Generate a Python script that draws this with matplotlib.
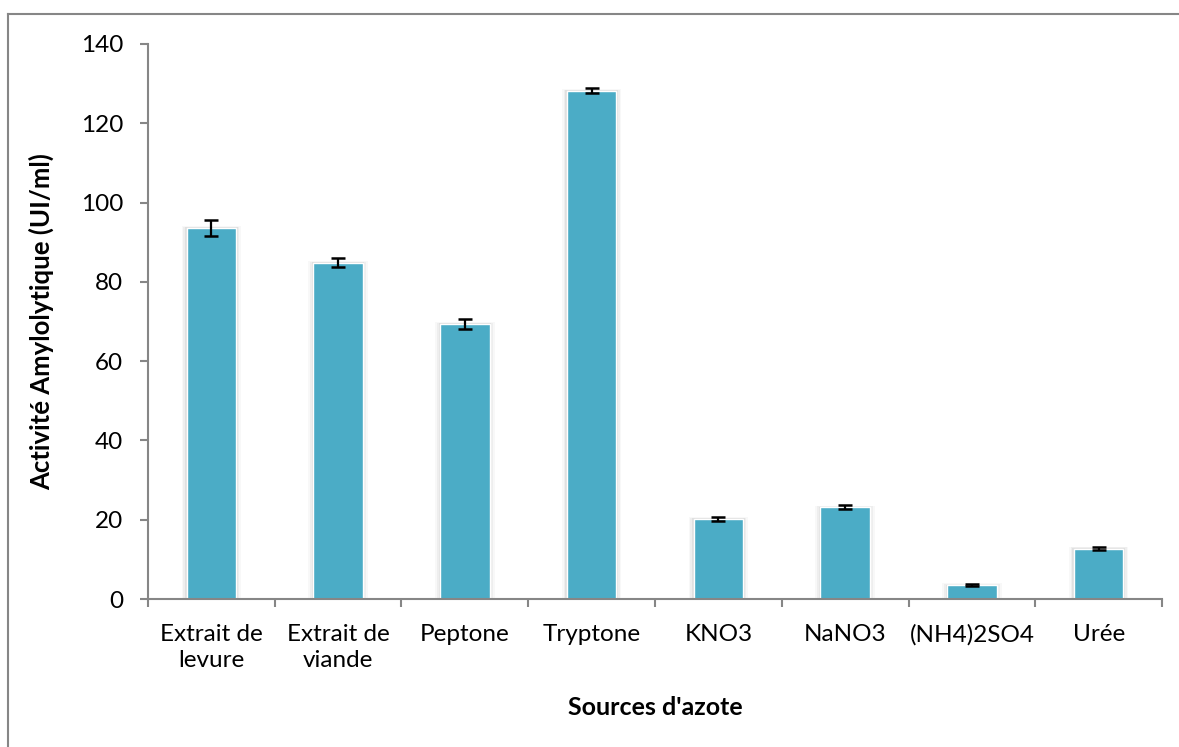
import matplotlib.pyplot as plt
from matplotlib.lines import Line2D
from matplotlib.ticker import FixedLocator
import numpy as np

plt.rcParams['font.family'] = ['Lato', 'DejaVu Sans']

sources = ['Extrait de\nlevure', 'Extrait de\nviande', 'Peptone', 'Tryptone',
           'KNO3', 'NaNO3', '(NH4)2SO4', 'Urée']
activite = [93.6, 84.8, 69.4, 128.2, 20.2, 23.1, 3.5, 12.7]
erreur = [2.0, 1.1, 1.2, 0.6, 0.6, 0.5, 0.3, 0.3]

bar_color = '#4BACC6'
axis_color = '#868686'

fig = plt.figure(figsize=(11.79, 7.47), dpi=100)
ax = fig.add_axes([0.1255, 0.1981, 0.8601, 0.7430])

x = np.arange(len(sources))
width = 0.39

# soft shadow behind the bars
for grow, alpha in [(0.08, 0.05), (0.05, 0.08), (0.025, 0.12)]:
    ax.bar(x, np.array(activite) + grow * 12, width=width + grow,
           color='#7f7f7f', alpha=alpha, linewidth=0, zorder=1,
           bottom=-grow * 6)
ax.bar(x, activite, width=width, color=bar_color, edgecolor='white',
       linewidth=1.0, zorder=2)
ax.errorbar(x, activite, yerr=erreur, fmt='none', ecolor='black',
            elinewidth=1.6, capsize=5, capthick=1.8, zorder=3)

ax.set_xlim(-0.5, len(sources) - 0.5)
ax.set_ylim(0, 140)
ax.set_yticks(range(0, 141, 20))
ax.set_xticks(x)
ax.set_xticklabels(sources, fontsize=17.5, linespacing=1.3)
ax.xaxis.set_minor_locator(FixedLocator(np.arange(-0.5, len(sources), 1.0)))
ax.tick_params(axis='x', which='major', length=0, pad=18)
ax.tick_params(axis='x', which='minor', length=6, width=1.5, color=axis_color)
ax.tick_params(axis='y', length=6, width=1.5, color=axis_color,
               labelsize=17.5, pad=12)

for side in ['top', 'right']:
    ax.spines[side].set_visible(False)
for side in ['left', 'bottom']:
    ax.spines[side].set_color(axis_color)
    ax.spines[side].set_linewidth(1.5)

ax.set_ylabel('Activité Amylolytique (UI/ml)', fontsize=18.5, fontweight='bold',
              labelpad=19)
ax.set_xlabel("Sources d'azote", fontsize=18, fontweight='bold', labelpad=18)

# outer chart frame
fig.add_artist(Line2D([8 / 1179, 8 / 1179], [0, 1 - 14 / 747],
                      transform=fig.transFigure, color=axis_color, lw=1.5))
fig.add_artist(Line2D([8 / 1179, 1], [1 - 14 / 747, 1 - 14 / 747],
                      transform=fig.transFigure, color=axis_color, lw=1.5))

fig.savefig('out.png', dpi=100)
